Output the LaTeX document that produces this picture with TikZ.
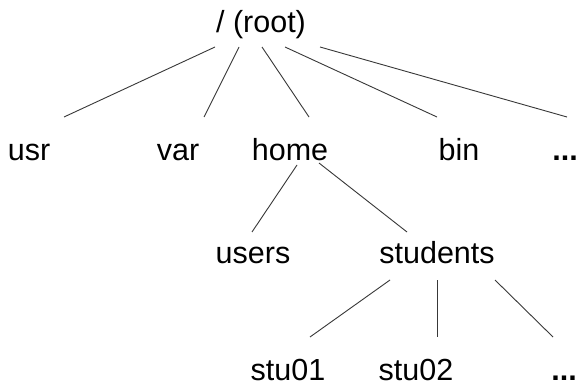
\documentclass[tikz,border=0pt]{standalone}
\usepackage{fontspec}
\setmainfont{Liberation Sans}
\begin{document}
\begin{tikzpicture}[x=1pt,y=-1pt,
  lbl/.style={anchor=base,inner sep=0pt,font=\fontsize{30.5}{36}\selectfont},
  conn/.style={draw=black!78,line width=0.9pt}]
\useasboundingbox[fill=white] (0,0) rectangle (577,385);
% nodes
\node[lbl] (root) at (261,33) {/ (root)};
\node[lbl] (usr) at (29,160) {usr};
\node[lbl] (var) at (178,160) {var};
\node[lbl] (home) at (290,160) {home};
\node[lbl] (bin) at (459,160) {bin};
\node[lbl] (dotsA) at (565,160) {\textbf{...}};
\node[lbl] (users) at (253,263) {users};
\node[lbl] (students) at (437,263) {students};
\node[lbl] (stuA) at (288,380) {stu01};
\node[lbl] (stuB) at (416,380) {stu02};
\node[lbl] (dotsB) at (564,380) {\textbf{...}};
% connectors
\draw[conn] ([shift={(-46,14)}]root.base) -- ([shift={(35,-43)}]usr.base);
\draw[conn] ([shift={(-22,14)}]root.base) -- ([shift={(26,-43)}]var.base);
\draw[conn] ([shift={(1,14)}]root.base) -- ([shift={(19,-43)}]home.base);
\draw[conn] ([shift={(24,14)}]root.base) -- ([shift={(-22,-43)}]bin.base);
\draw[conn] ([shift={(59,14)}]root.base) -- ([shift={(2,-43)}]dotsA.base);
\draw[conn] ([shift={(7,5)}]home.base) -- ([shift={(-1,-31)}]users.base);
\draw[conn] ([shift={(29,3)}]home.base) -- ([shift={(-30,-31)}]students.base);
\draw[conn] ([shift={(-47,17)}]students.base) -- ([shift={(22,-43)}]stuA.base);
\draw[conn] ([shift={(0,17)}]students.base) -- ([shift={(21,-43)}]stuB.base);
\draw[conn] ([shift={(58,17)}]students.base) -- ([shift={(-11,-43)}]dotsB.base);
\end{tikzpicture}
\end{document}
